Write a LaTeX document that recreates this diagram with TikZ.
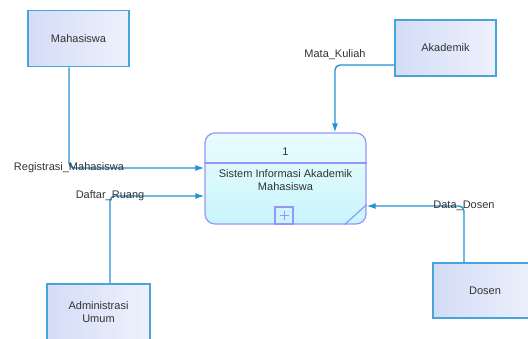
\documentclass[tikz,border=0pt]{standalone}
\usepackage{fontspec}
\setmainfont{Liberation Sans}
\usepackage{tikz}
\usetikzlibrary{arrows.meta}
\usetikzlibrary{calc}
\definecolor{flowblue}{RGB}{35,145,212}
\definecolor{entline}{RGB}{70,166,220}
\definecolor{entfillA}{RGB}{212,220,246}
\definecolor{entfillB}{RGB}{238,241,253}
\definecolor{procline}{RGB}{150,150,250}
\definecolor{procfillA}{RGB}{234,252,254}
\definecolor{procfillB}{RGB}{200,245,252}

\begin{document}
\begin{tikzpicture}[x=1pt,y=-1pt,>={Latex[length=9pt,width=6pt]},
    entity/.style={draw=entline, line width=1.6pt, left color=entfillA, right color=entfillB,
        minimum width=101pt, minimum height=56pt, align=center, text=black!80,
        font=\fontsize{11}{13}\selectfont},
    flow/.style={draw=flowblue, line width=1.4pt, rounded corners=5pt},
    flowlabel/.style={text=black!80, font=\fontsize{11}{13}\selectfont, inner sep=1pt}]
    \useasboundingbox (0,0) rectangle (528,338);
    % external entities
    \node[entity] (mhs) at (78.5,38.5) {Mahasiswa};
    \node[entity] (akd) at (445.5,48) {Akademik};
    \node[entity, minimum width=103pt] (adm) at (98.5,312) {Administrasi\\Umum};
    \node[entity, minimum width=104pt, minimum height=55pt] (dsn) at (485,290.5) {Dosen};
    % process
    \node[draw=procline, line width=1.2pt, rounded corners=10pt, top color=procfillA, bottom color=procfillB,
        minimum width=161pt, minimum height=91pt] (proc) at (285.5,178.5) {};
    \draw[procline, line width=1.2pt] (proc.west |- 0,163) -- (proc.east |- 0,163);
    \node[flowlabel] (pnum) at (285.5,152) {1};
    \node[flowlabel, align=center] (pname) at (285.5,180) {Sistem Informasi Akademik\\Mahasiswa};
    \node[draw=procline, line width=1.2pt, minimum width=18pt, minimum height=17pt, inner sep=0pt] (pbox) at (284,215.5) {};
    \draw[procline, line width=1pt] ($(pbox.center)+(0,-4.5)$) -- ($(pbox.center)+(0,4.5)$)
        ($(pbox.center)+(-4.5,0)$) -- ($(pbox.center)+(4.5,0)$);
    \draw[procline, line width=1.2pt] ($(proc.south east)+(-22,0)$) -- ($(proc.south east)+(0,-20)$);
    % data flows
    \draw[flow,->] ([xshift=-9.5pt]mhs.south) |- node[flowlabel] {Registrasi\_Mahasiswa} (proc.west |- 0,168);
    \draw[flow,->] ([xshift=11.5pt]adm.north) |- node[flowlabel] {Daftar\_Ruang} (proc.west |- 0,196);
    \draw[flow,->] (akd.west |- 0,65) -| node[flowlabel, above=4pt] {Mata\_Kuliah} (proc.north -| 335,0);
    \draw[flow,->] ([xshift=-21pt]dsn.north) |- node[flowlabel] {Data\_Dosen} (proc.east |- 0,206);
\end{tikzpicture}
\end{document}
